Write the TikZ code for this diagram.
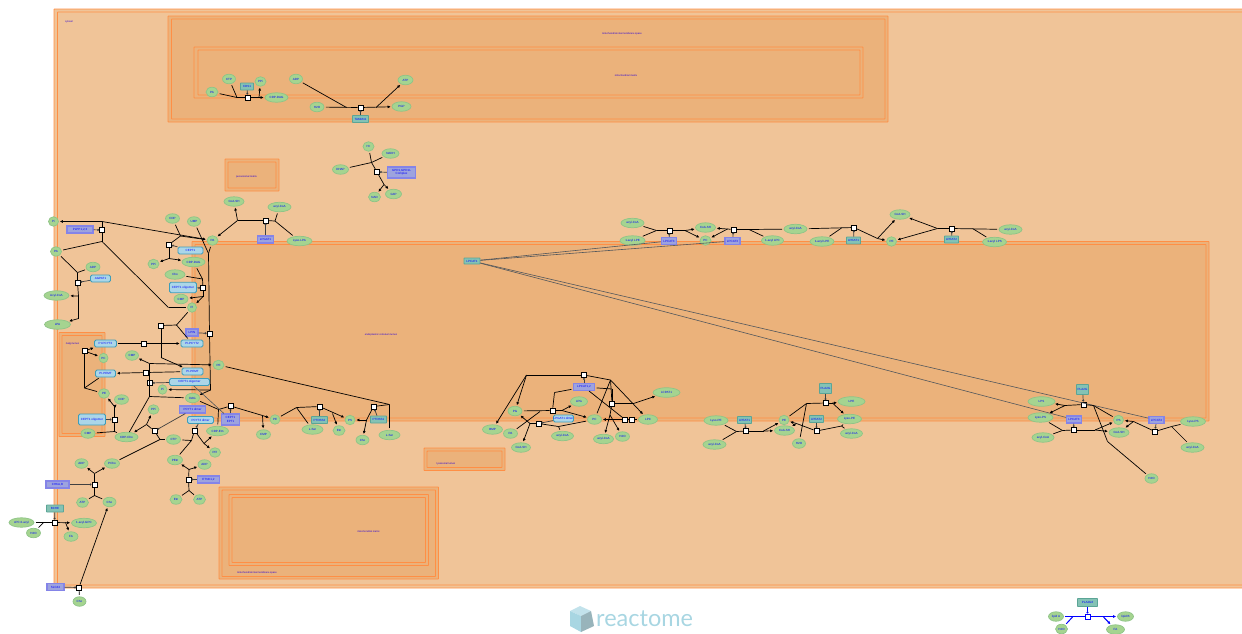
\documentclass[tikz,border=0pt]{standalone}
\usepackage{fontspec}
\setmainfont{Liberation Sans}
\newfontfamily\logofont{Lato}
\usetikzlibrary{shapes, arrows.meta, positioning, calc}

\definecolor{cytfill}{HTML}{F0C498}
\definecolor{orgfill}{HTML}{EBB27B}
\definecolor{orgline}{HTML}{FF8F45}
\definecolor{chemfill}{HTML}{A5D490}
\definecolor{chemline}{HTML}{8FC488}
\definecolor{protfill}{HTML}{ABD6E8}
\definecolor{protline}{HTML}{3E9DB9}
\definecolor{enzfill}{HTML}{84C2B4}
\definecolor{enzline}{HTML}{5BA596}
\definecolor{setfill}{HTML}{9DA3DE}
\definecolor{setline}{HTML}{8484E8}
\definecolor{linkgray}{HTML}{52575C}
\definecolor{logoblue}{HTML}{A8D6E2}

\tikzset{
	every node/.style={inner sep=0pt,text=blue,align=center,font=\fontsize{3}{3.4}\selectfont},
	chem/.style={ellipse,draw=chemline,fill=chemfill,line width=.7pt,minimum width=#1,minimum height=9.5pt},
	prot/.style={rectangle,rounded corners=1.5pt,draw=protline,fill=protfill,line width=.8pt,minimum width=#1,minimum height=7pt},
	enz/.style={rectangle,rounded corners=.5pt,draw=enzline,fill=enzfill,line width=.8pt,minimum width=#1,minimum height=7pt},
	setbox/.style={rectangle,draw=setline,fill=setfill,line width=1.1pt,minimum width=#1,minimum height=7pt},
	rxn/.style={rectangle,draw=black,fill=white,line width=.9pt,minimum size=5pt},
	lab/.style={font=\fontsize{2.5}{3}\selectfont,text=blue!85!red},
	comp/.style={draw=orgline,fill=#1,line width=.9pt,rounded corners=.6pt},
	inp/.style={draw=black,line width=.7pt,shorten <=1.5pt},
	rel/.style={draw=black,line width=.7pt},
	prod/.style={draw=black,line width=.7pt,-{Latex[length=3pt,width=3pt]},shorten >=1pt},
	cat/.style={draw=black!75,line width=.7pt,-{Circle[open,length=2pt,width=2pt,fill=white]}},
	grayln/.style={draw=linkgray,line width=.6pt}
}

\begin{document}
\begin{tikzpicture}[x=1pt,y=-1pt]
	\useasboundingbox (0,0) rectangle (1242,633);

	% compartments
	\draw[comp=cytfill] (54,9) rectangle (1250,588);
	\draw[comp=cytfill] (57.5,12) rectangle (1250,585);
	\draw[comp=orgfill] (168,16) rectangle (888,122);
	\draw[comp=orgfill] (171.5,19) rectangle (885,119);
	\draw[comp=orgfill] (194,47) rectangle (863,98);
	\draw[comp=orgfill] (198,50) rectangle (860,95);
	\draw[comp=orgfill] (225,159) rectangle (279,191);
	\draw[comp=orgfill] (228,162) rectangle (276,188);
	\draw[comp=orgfill] (192,241.5) rectangle (1209,421);
	\draw[comp=orgfill] (195,244.5) rectangle (1206,418);
	\draw[comp=orgfill] (59,332.5) rectangle (105,436.5);
	\draw[comp=orgfill] (62,335.5) rectangle (102,433.5);
	\draw[comp=orgfill] (424,448) rectangle (505,470.5);
	\draw[comp=orgfill] (427,451) rectangle (502,467.5);
	\draw[comp=orgfill] (219,487) rectangle (438.5,579);
	\draw[comp=orgfill] (222,490) rectangle (435.5,576.5);
	\draw[comp=orgfill] (229,494.5) rectangle (428.5,565.5);
	\draw[comp=orgfill] (232,497.5) rectangle (425.5,562.5);

	\node[lab] (cytlab) at (69,22) {cytosol};
	\node[lab] (imslab) at (622,33.5) {mitochondrial intermembrane space};
	\node[lab] (matlab) at (626,76) {mitochondrial matrix};
	\node[lab] (perlab) at (246.5,176.5) {peroxisomal matrix};
	\node[lab] (erlab) at (381,335) {endoplasmic reticulum lumen};
	\node[lab] (gollab) at (72.5,343.5) {Golgi lumen};
	\node[lab] (lyslab) at (446,464) {lysosomal lumen};
	\node[lab] (ims2lab) at (257,572.5) {mitochondrial intermembrane space};
	\node[lab] (mat2lab) at (368.5,531.5) {mitochondrial matrix};

	% nodes
	\node[chem=12] (pa1) at (212,92) {PA};
	\node[chem=13] (ctp1) at (229,79) {CTP};
	\node[enz=13] (cds) at (247,86.5) {CDS1};
	\node[chem=11] (ppi1) at (260.5,81.5) {PPi};
	\node[chem=23] (cdpdag1) at (276.5,97.5) {CDP-DAG};
	\node[rxn] (r1) at (247.5,97.5) {};
	\node[chem=13] (adp1) at (296,79) {ADP};
	\node[chem=14] (pi1) at (317,107) {H2O};
	\node[rxn] (r2) at (360.5,107.5) {};
	\node[enz=16] (atp5) at (360.5,119) {TAMM41};
	\node[chem=15] (atp1) at (405.5,80) {ATP};
	\node[chem=19] (hh1) at (401.5,106.5) {PGP};

	\node[chem=11] (hh2) at (368.5,146.5) {H+};
	\node[chem=17] (nadh) at (390.5,153.5) {NADH};
	\node[chem=16] (dhap) at (340.5,169.5) {DHAP};
	\node[rxn] (r3) at (377,172) {};
	\node[setbox=28,minimum height=11pt] (gpd) at (401.5,172.5) {GPD1,GPD1L\\Complex};
	\node[chem=12] (nad) at (374.5,197) {NAD};
	\node[chem=16] (g3p) at (393.5,194) {G3P};

	\node[chem=10] (pe1) at (53.5,221.5) {Pi};
	\node[setbox=26] (lpin1) at (80,229.5) {PLPP1,2,3};
	\node[rxn] (r4) at (102,230) {};
	\node[chem=11] (pa2) at (56,251.5) {PA};
	\node[chem=14] (adp2) at (93,267) {ADP};
	\node[prot=20] (agk) at (100.5,278.5) {AGPAT1};
	\node[rxn] (r5) at (77.5,282.5) {};
	\node[chem=25] (lpa1) at (56.5,295.5) {Acyl-CoA};
	\node[chem=26] (lpa2) at (57.5,324.5) {LPA};

	\node[chem=14] (cdp1) at (172.5,218.5) {CDP};
	\node[chem=13] (ump1) at (194,221.5) {UMP};
	\node[chem=11] (pa3) at (212.5,240.5) {PA};
	\node[rxn] (r6) at (169,244.5) {};
	\node[prot=25] (cept1) at (190.5,250.5) {CEPT1};
	\node[chem=11] (pi2) at (153.5,264) {PPi};
	\node[chem=23] (cdpdag2) at (193.5,262) {CDP-DAG};
	\node[chem=20] (cho1) at (175,274.5) {Cho};
	\node[prot=27,minimum height=10.5pt] (pcyt) at (183,287.5) {CEPT1 oligomer};
	\node[rxn] (r7) at (203,288) {};
	\node[chem=14] (cmp1) at (181,299) {CMP};
	\node[chem=9] (pi3) at (192,307.5) {Pi};
	\node[setbox=12] (lpin2) at (192,332.5) {LPIN};
	\node[rxn] (r8) at (209.5,333.5) {};
	\node[rxn] (r9) at (161,325.5) {};

	\node[prot=22] (pcho1) at (105.5,343.5) {PI-PCYT2};
	\node[rxn] (r10) at (143.5,343.5) {};
	\node[prot=22] (pcho2) at (192,343.5) {PI-PCYT2};
	\node[rxn] (r11) at (84.5,351) {};
	\node[chem=9] (pc1) at (103.5,358) {PC};
	\node[chem=13] (cmp2) at (132,355.5) {CMP};
	\node[chem=11] (pe2) at (218.5,365) {PE};
	\node[prot=20] (pemt1) at (105.5,373.5) {PI-PEMT};
	\node[rxn] (r12) at (145.5,372.5) {};
	\node[prot=21] (pemt2) at (192.5,371.5) {PI-PEMT};
	\node[rxn] (r13) at (150,383) {};
	\node[prot=40] (cept2) at (189.5,382) {CEPT1 oligomer};
	\node[chem=9] (pi4) at (162.5,389.5) {Pi};
	\node[chem=11] (pe3) at (104,393.5) {PE};
	\node[chem=14] (dag1) at (192.5,398) {DAG};
	\node[chem=14] (cdp2) at (121.5,399.5) {CDP};

	\node[rxn] (r14) at (114.5,419.5) {};
	\node[prot=27,minimum height=11pt] (pcyt2) at (92,419.5) {CEPT1 oligomer};
	\node[chem=14] (cmp3) at (88,433.5) {CMP};
	\node[chem=23] (cdpcho) at (126.5,437) {CDP-Cho};
	\node[rxn] (r15) at (154.5,431) {};
	\node[chem=11] (ppi2) at (153.5,409.5) {PPi};
	\node[setbox=26] (pcyt1) at (192.5,409.5) {PCYT1 dimer};
	\node[chem=14] (ctp2) at (173.5,439.5) {CTP};
	\node[chem=15] (pcho3) at (112,463.5) {PCho};

	\node[rxn] (r16) at (194.5,430.5) {};
	\node[prot=26] (prot3) at (200.5,420) {PCYT2 dimer};
	\node[chem=22] (cdpetn) at (217.5,431) {CDP-Etn};
	\node[chem=11] (ppi3) at (215,452.5) {PPi};
	\node[chem=15] (petn1) at (175,460) {PEtn};
	\node[rxn] (r17) at (188.5,479.5) {};
	\node[setbox=22] (etnk1) at (208.5,479.5) {ETNK1,2};
	\node[chem=13] (adp3) at (204.5,464.5) {ADP};
	\node[chem=12] (etn1) at (176,499.5) {Etn};
	\node[chem=12] (atp2) at (199.5,499.5) {ATP};

	\node[rxn] (r18) at (94.5,484.5) {};
	\node[setbox=23] (chk) at (57.5,484.5) {CHKA,B};
	\node[chem=13] (adp4) at (81.5,463.5) {ADP};
	\node[chem=12] (atp3) at (82.5,502.5) {ATP};
	\node[chem=13] (cho2) at (109.5,502) {Cho};
	\node[rxn] (r19) at (54.5,522.5) {};
	\node[enz=17] (pla) at (55,508.5) {BCHE};
	\node[chem=25] (lpc1) at (21.5,522.5) {sPC:2-acyl};
	\node[chem=14] (h2o1) at (33.5,533) {H2O};
	\node[chem=25] (lpc2) at (84,523) {1-acyl-GPC};
	\node[chem=14] (fa1) at (71,536.5) {FA};
	\node[rxn] (r20) at (79,587.5) {};
	\node[setbox=17] (slc) at (55.5,587) {SLC44};
	\node[chem=13] (cho3) at (79.5,601.5) {Cho};

	\node[rxn] (r21) at (265.5,220.5) {};
	\node[setbox=16] (lpin3) at (265.5,239.5) {LPGAT1};
	\node[chem=20] (coa1) at (234,201.5) {CoA-SH};
	\node[chem=23] (acyl1) at (279.5,207) {acyl-CoA};
	\node[chem=25] (lyso1) at (299.5,241) {Lyso-LPA};

	\node[rxn] (r22) at (230.5,406) {};
	\node[setbox=18,minimum height=11pt] (cept3) at (230.5,419.5) {CEPT1\\EPT1};
	\node[chem=14] (cmp4) at (263.5,434.5) {CMP};
	\node[chem=10] (pe4) at (275,419.5) {PE};
	\node[rxn] (r23) at (319.5,406.5) {};
	\node[enz=16] (pisd) at (319.5,420) {PTDSS2};
	\node[chem=21] (lser1) at (312.5,429.5) {L-Ser};
	\node[chem=12] (etn2) at (339,430.5) {Etn};
	\node[chem=10] (ps1) at (350,420) {PS};
	\node[rxn] (r24) at (373.5,406.5) {};
	\node[enz=16] (ptds1) at (378.5,419.5) {PTDSS1};
	\node[chem=13] (cho4) at (362.5,440) {Cho};
	\node[chem=21] (lser2) at (389.5,435) {L-Ser};

	\node[enz=16,minimum height=6pt] (lpcat1) at (472,261) {LPCAT1};

	\node[chem=23] (acyl2) at (632.5,223) {acyl-CoA};
	\node[chem=25] (lyso2) at (632.5,240.5) {1-acyl LPE};
	\node[rxn] (r25) at (669.5,230.5) {};
	\node[setbox=15] (lpc3) at (669,241) {LPCAT3};
	\node[chem=20] (coa2) at (705.5,227.5) {CoA-SH};
	\node[chem=11] (pa4) at (705.5,240.5) {PC};
	\node[rxn] (r26) at (733.5,229.5) {};
	\node[setbox=15] (lpc4) at (732.5,241) {LPCAT3};
	\node[chem=22] (lyso3) at (772.5,240.5) {1-acyl LPC};
	\node[chem=23] (acyl3) at (795.5,229) {acyl-CoA};
	\node[chem=24] (lyso4) at (822,241.5) {1-acyl LPE};
	\node[rxn] (r27) at (854,227.5) {};
	\node[enz=14] (lpe1) at (853.5,240.5) {LPEAT1};
	\node[chem=10] (pe5) at (891.5,241.5) {PE};
	\node[chem=20] (coa3) at (900,214.5) {CoA-SH};
	\node[rxn] (r28) at (952,228.5) {};
	\node[enz=14] (lpe2) at (951.5,239.5) {LPEAT2};
	\node[chem=24] (lyso5) at (994.5,242) {1-acyl LPS};
	\node[chem=23] (acyl4) at (1010.5,229.5) {acyl-CoA};

	% lower ER group
	\node[rxn] (r29) at (584,375) {};
	\node[setbox=21] (mboat1) at (584,387) {LPCAT1,2};
	\node[chem=27] (lpch) at (666.5,392.5) {LCPAT1};
	\node[chem=20] (bmp) at (492.5,429.5) {BMP};
	\node[chem=14] (pgn) at (515,411) {PG};
	\node[chem=17] (lpg1) at (579,401.5) {LPG};
	\node[rxn] (r30) at (552.5,410.5) {};
	\node[prot=20] (prot5) at (563.5,418.5) {LPGAT1 dimer};
	\node[rxn] (r31) at (538.5,423.5) {};
	\node[chem=14] (ptd) at (510.5,433.5) {PA};
	\node[chem=22] (acyl5) at (562.5,436) {acyl-CoA};
	\node[chem=19] (coa4) at (521,447.5) {CoA-SH};
	\node[chem=14] (pc2) at (594.5,419.5) {PC};
	\node[rxn] (r32) at (612,403.5) {};
	\node[rxn] (r33) at (625,419.5) {};
	\node[rxn] (r34) at (631.5,419.5) {};
	\node[chem=19] (pcg) at (648,419.5) {LPC};
	\node[chem=20] (acyl6) at (603.5,439) {acyl-CoA};
	\node[chem=14] (h2o2) at (622.5,436.5) {H2O};

	\node[chem=24] (lyso6) at (716,420.5) {Lyso-PE};
	\node[chem=23] (acyl7) at (714.5,444.5) {acyl-CoA};
	\node[rxn] (r35) at (746,431) {};
	\node[enz=14] (enz6) at (744.5,420) {LPEAT1};
	\node[chem=10] (pe6) at (784,420) {PE};
	\node[chem=20] (coa5) at (784.5,430.5) {CoA-SH};
	\node[chem=13] (h2o3) at (799,443.5) {H2O};
	\node[enz=12,minimum height=10pt] (pla2) at (825.5,388.5) {PLA2G};
	\node[rxn] (r36) at (825.5,403) {};
	\node[chem=27] (lpe3) at (851.5,401.5) {LPE};
	\node[rxn] (r37) at (816.5,431) {};
	\node[enz=14] (enz7) at (816.5,419) {LPEAT2};
	\node[chem=24] (lyso7) at (849.5,419) {Lyso-PE};
	\node[chem=22] (acyl8) at (851.5,433.5) {acyl-CoA};

	\node[chem=27] (lps) at (1041.5,401.5) {LPS};
	\node[chem=25] (lyso8) at (1040.5,417.5) {Lyso-PS};
	\node[chem=22] (acyl9) at (1043,437.5) {acyl-CoA};
	\node[enz=12,minimum height=10pt] (pla3) at (1082.5,389.5) {PLA2G};
	\node[rxn] (r38) at (1083.5,404.5) {};
	\node[rxn] (r39) at (1073.5,430) {};
	\node[setbox=15] (lp5) at (1074,419.5) {LPCAT3};
	\node[chem=10] (ps2) at (1118.5,420) {PS};
	\node[chem=20] (coa6) at (1119,432.5) {CoA-SH};
	\node[rxn] (r40) at (1155,431.5) {};
	\node[setbox=15] (lp6) at (1156.5,420) {LPCAT4};
	\node[chem=25] (lyso9) at (1193,421.5) {Lyso-PS};
	\node[chem=23] (acyl10) at (1192.5,447.5) {acyl-CoA};
	\node[chem=13] (h2o4) at (1151.5,478.5) {H2O};

	% legend reaction
	\node[enz=20,minimum height=8pt] (leg) at (1087.5,602.5) {PLA2G6};
	\node[rxn,draw=blue] (r41) at (1087.5,616.5) {};
	\node[chem=15] (leg1) at (1056,616.5) {lipid A};
	\node[chem=12] (leg2) at (1061.5,629) {H2O};
	\node[chem=16] (leg3) at (1125.5,616.5) {lipid B};
	\node[chem=18] (leg4) at (1115.5,629.5) {FA};

	% junctions
	\coordinate (j1) at (237,97.5);
	\coordinate (j2) at (259,97.5);
	\coordinate (j3) at (346.5,107.5);
	\coordinate (j4) at (376,107.5);
	\coordinate (j5) at (371.5,162.5);
	\coordinate (j6) at (384,184.5);
	\coordinate (j7) at (102,221.5);
	\coordinate (j8) at (102,241.5);
	\coordinate (j9) at (168.5,307.5);
	\coordinate (j10) at (77.5,272.5);
	\coordinate (j11) at (78.5,296);
	\coordinate (j12) at (78.5,318.5);
	\coordinate (j13) at (180.5,236);
	\coordinate (j14) at (169,258.5);
	\coordinate (j15) at (208.5,253.5);
	\coordinate (j16) at (210.5,390);
	\coordinate (j17) at (176.5,325);
	\coordinate (j18) at (161,357.5);
	\coordinate (j19) at (149.5,363.5);
	\coordinate (j20) at (149.5,396.5);
	\coordinate (j21) at (84.5,388);
	\coordinate (j22) at (114.5,406.5);
	\coordinate (j23) at (114.5,431.5);
	\coordinate (j24) at (160,439.5);
	\coordinate (j25) at (146.5,424.5);
	\coordinate (j26) at (191.5,440.5);
	\coordinate (j27) at (204,443.5);
	\coordinate (j28) at (189,469.5);
	\coordinate (j29) at (189,490.5);
	\coordinate (j30) at (94.5,473.5);
	\coordinate (j31) at (94.5,495.5);
	\coordinate (j32) at (43.5,522.5);
	\coordinate (j33) at (65.5,522.5);
	\coordinate (j34) at (237.5,220.5);
	\coordinate (j35) at (275,221);
	\coordinate (j36) at (218.5,409.5);
	\coordinate (j37) at (262.5,415.5);
	\coordinate (j38) at (296.5,407.5);
	\coordinate (j39) at (332.5,413.5);
	\coordinate (j40) at (389.5,404.5);
	\coordinate (j41) at (366.5,420);
	\coordinate (j42) at (656.5,230.5);
	\coordinate (j43) at (685,230.5);
	\coordinate (j44) at (727.5,229);
	\coordinate (j45) at (749,229.5);
	\coordinate (j46) at (841.5,228);
	\coordinate (j47) at (877.5,238.5);
	\coordinate (j48) at (937.5,228.5);
	\coordinate (j49) at (972.5,228.5);
	\coordinate (j50) at (526.5,375);
	\coordinate (j51) at (610.5,380);
	\coordinate (j52) at (612,389);
	\coordinate (j53) at (610,415);
	\coordinate (j54) at (633.5,403.5);
	\coordinate (j55) at (554.5,392.5);
	\coordinate (j56) at (562,410.5);
	\coordinate (j57) at (530,423.5);
	\coordinate (j58) at (540,411.5);
	\coordinate (j59) at (558.5,426.5);
	\coordinate (j60) at (736.5,431.5);
	\coordinate (j61) at (763.5,431);
	\coordinate (j62) at (806.5,403.5);
	\coordinate (j63) at (832.5,403);
	\coordinate (j64) at (796.5,423.5);
	\coordinate (j65) at (841.5,426);
	\coordinate (j66) at (1065,405.5);
	\coordinate (j67) at (1093.5,405.5);
	\coordinate (j68) at (1107.5,441.5);
	\coordinate (j69) at (1062.5,430.5);
	\coordinate (j70) at (1095,430);
	\coordinate (j71) at (1133.5,421.5);
	\coordinate (j72) at (1171.5,426.5);
	\coordinate (j73) at (1072.5,617);
	\coordinate (j74) at (1103.5,617);
	\coordinate (j75) at (202.5,279);
	\coordinate (j76) at (203,296.5);

	% top reactions
	\draw[inp] (pa1) -- (j1);
	\draw[inp] (ctp1) -- (j1);
	\draw[rel] (j1) -- (r1);
	\draw[prod] (r1) -- (cdpdag1);
	\draw[prod] (j2) -- (ppi1);
	\draw[cat] (cds) -- (r1);
	\draw[inp] (adp1) -- (j3);
	\draw[inp] (pi1) -- (r2);
	\draw[prod] (r2) -- (hh1);
	\draw[prod] (j4) -- (atp1);
	\draw[cat] (atp5) -- (r2);
	\draw[inp] (hh2) -- (j5);
	\draw[inp] (nadh) -- (j5);
	\draw[inp] (dhap) -- (j5);
	\draw[rel] (j5) -- (r3);
	\draw[rel] (r3) -- (j6);
	\draw[prod] (j6) -- (nad);
	\draw[prod] (j6) -- (g3p);
	\draw[cat] (gpd) -- (r3);

	% left reactions
	\draw[prod] (j7) -- (pe1);
	\draw[prod] (j7) -- (pa3);
	\draw[rel] (j7) -- (r4);
	\draw[rel] (r4) -- (j8);
	\draw[cat] (lpin1) -- (r4);
	\draw[inp] (pa2) -- (j8);
	\draw[rel] (j8) -- (j9);
	\draw[inp] (pi3) -- (j9);
	\draw[inp] (pa2) -- (j10);
	\draw[inp] (adp2) -- (j10);
	\draw[rel] (j10) -- (r5);
	\draw[cat] (agk) -- (r5);
	\draw[rel] (r5) -- (j11);
	\draw[rel] (j11) -- (j12);
	\draw[prod] (j11) -- (lpa1);
	\draw[prod] (j12) -- (lpa2);

	\draw[inp] (cdp1) -- (j13);
	\draw[prod] (j13) -- (pa3);
	\draw[rel] (j13) -- (r6);
	\draw[cat] (cept1) -- (r6);
	\draw[rel] (r6) -- (j14);
	\draw[prod] (j14) -- (pi2);
	\draw[prod] (j14) -- (cdpdag2);
	\draw[inp] (ump1) -- (j15);
	\draw[inp] (pa3) -- (j15);
	\draw[rel] (j15) -- (r8);
	\draw[rel] (r8) -- (j16);
	\draw[prod] (j16) -- (dag1);
	\draw[prod] (j16) -- (pi4);
	\draw[cat] (lpin2) -- (r8);
	\draw[inp] (cdpdag2) -- (j75);
	\draw[inp] (cho1) -- (j75);
	\draw[rel] (j75) -- (r7);
	\draw[rel] (r7) -- (j76);
	\draw[prod] (j76) -- (cmp1);
	\draw[prod] (j76) -- (pi3);
	\draw[cat] (pcyt) -- (r7);

	\draw[inp] (pi3) -- (j17);
	\draw[inp] (pcho2) -- (j17);
	\draw[rel] (j17) -- (r9);
	\draw[rel] (r9) -- (j18);
	\draw[prod] (j18) -- (pemt2);
	\draw[inp] (pcho1) -- (r10);
	\draw[prod] (r10) -- (pcho2);
	\draw[prod] (r11) -- (pc1);
	\draw[prod] (r11) -- (pcho1);
	\draw[rel] (r11) -- (j21);
	\draw[inp] (pe3) -- (j21);
	\draw[inp] (pemt1) -- (j21);
	\draw[inp] (pemt2) -- (r12);
	\draw[prod] (r12) -- (pemt1);

	\draw[rel] (j19) -- (j20);
	\draw[prod] (j19) -- (pe2);
	\draw[prod] (j19) -- (cmp2);
	\draw[cat] (cept2) -- (r13);
	\draw[inp] (dag1) -- (j20);
	\draw[rel] (j20) -- (cdpcho);

	\draw[rel] (r14) -- (j22);
	\draw[prod] (j22) -- (pe3);
	\draw[prod] (j22) -- (cdp2);
	\draw[rel] (r14) -- (j23);
	\draw[inp] (cmp3) -- (j23);
	\draw[inp] (cdpcho) -- (j23);
	\draw[cat] (pcyt2) -- (r14);

	\draw[inp] (pcho3) -- (j24);
	\draw[inp] (ctp2) -- (j24);
	\draw[rel] (j24) -- (r15);
	\draw[rel] (r15) -- (j25);
	\draw[prod] (j25) -- (ppi2);
	\draw[prod] (j25) -- (cdpcho);
	\draw[cat] (pcyt1) -- (r15);

	\draw[inp] (ctp2) -- (j26);
	\draw[inp] (petn1) -- (j26);
	\draw[rel] (j26) -- (r16);
	\draw[cat] (prot3) -- (r16);
	\draw[rel] (r16) -- (j27);
	\draw[prod] (j27) -- (cdpetn);
	\draw[prod] (j27) -- (ppi3);

	\draw[rel] (r17) -- (j28);
	\draw[prod] (j28) -- (petn1);
	\draw[prod] (j28) -- (adp3);
	\draw[rel] (r17) -- (j29);
	\draw[inp] (etn1) -- (j29);
	\draw[inp] (atp2) -- (j29);
	\draw[cat] (etnk1) -- (r17);

	\draw[rel] (r18) -- (j30);
	\draw[prod] (j30) -- (adp4);
	\draw[prod] (j30) -- (pcho3);
	\draw[rel] (r18) -- (j31);
	\draw[inp] (atp3) -- (j31);
	\draw[inp] (cho2) -- (j31);
	\draw[cat] (chk) -- (r18);

	\draw[inp] (lpc1) -- (r19);
	\draw[inp] (h2o1) -- (j32);
	\draw[prod] (r19) -- (lpc2);
	\draw[prod] (j33) -- (fa1);
	\draw[cat] (pla) -- (r19);
	\draw[inp] (cho3) -- (r20);
	\draw[prod] (r20) -- (cho2);
	\draw[cat] (slc) -- (r20);

	\draw[rel] (j34) -- (r21);
	\draw[rel] (r21) -- (j35);
	\draw[prod] (j34) -- (coa1);
	\draw[prod] (j34) -- (pa3);
	\draw[inp] (acyl1) -- (j35);
	\draw[inp] (lyso1) -- (j35);
	\draw[cat] (lpin3) -- (r21);

	\draw[inp] (dag1) -- (j36);
	\draw[rel] (j36) -- (r22);
	\draw[inp] (cdpetn) -- (j36);
	\draw[rel] (r22) -- (j37);
	\draw[prod] (j37) -- (cmp4);
	\draw[prod] (j37) -- (pe4);
	\draw[cat] (cept3) -- (r22);
	\draw[grayln] (cept2) -- (cept3);

	\draw[inp] (pe4) -- (j38);
	\draw[inp] (lser1) -- (j38);
	\draw[rel] (j38) -- (r23);
	\draw[prod] (r23) -- (ps1);
	\draw[prod] (j39) -- (etn2);
	\draw[cat] (pisd) -- (r23);
	\draw[inp] (pe2) -- (j40);
	\draw[inp] (lser2) -- (j40);
	\draw[rel] (j40) -- (r24);
	\draw[rel] (r24) -- (j41);
	\draw[prod] (j41) -- (ps1);
	\draw[prod] (j41) -- (cho4);
	\draw[cat] (ptds1) -- (r24);

	% long links from LPCAT1
	\draw[grayln] (lpcat1) -- (lpc3);
	\draw[grayln] (lpcat1) -- (lpc4);
	\draw[grayln] (lpcat1) -- (lp5);
	\draw[grayln] (lpcat1) -- (lp6);

	% upper ER edge
	\draw[inp] (acyl2) -- (j42);
	\draw[inp] (lyso2) -- (j42);
	\draw[rel] (j42) -- (r25);
	\draw[rel] (r25) -- (j43);
	\draw[prod] (j43) -- (coa2);
	\draw[prod] (j43) -- (pa4);
	\draw[cat] (lpc3) -- (r25);
	\draw[rel] (j44) -- (r26);
	\draw[prod] (j44) -- (coa2);
	\draw[prod] (j44) -- (pa4);
	\draw[rel] (r26) -- (j45);
	\draw[inp] (acyl3) -- (j45);
	\draw[inp] (lyso3) -- (j45);
	\draw[cat] (lpc4) -- (r26);
	\draw[inp] (acyl3) -- (r27);
	\draw[inp] (lyso4) -- (j46);
	\draw[rel] (r27) -- (j47);
	\draw[prod] (j47) -- (pe5);
	\draw[prod] (j47) -- (coa3);
	\draw[cat] (lpe1) -- (r27);
	\draw[rel] (j48) -- (r28);
	\draw[prod] (j48) -- (coa3);
	\draw[prod] (j48) -- (pe5);
	\draw[inp] (acyl4) -- (r28);
	\draw[inp] (lyso5) -- (j49);
	\draw[cat] (lpe2) -- (r28);

	% lower ER edge
	\draw[rel] (j50) -- (r29);
	\draw[prod] (j50) -- (bmp);
	\draw[prod] (j50) -- (pgn);
	\draw[rel] (r29) -- (j51);
	\draw[inp] (pc2) -- (j51);
	\draw[prod] (j51) -- (pcg);
	\draw[cat] (mboat1) -- (r29);
	\draw[inp] (mboat1) -- (j52);
	\draw[rel] (j51) -- (r32);
	\draw[rel] (j52) -- (r32);
	\draw[rel] (r32) -- (j54);
	\draw[prod] (j54) -- (lpch);
	\draw[rel] (r32) -- (j53);
	\draw[prod] (j53) -- (acyl6);
	\draw[prod] (j53) -- (h2o2);
	\draw[inp] (pcg) -- (r34);
	\draw[rel] (r34) -- (r33);
	\draw[prod] (r33) -- (pc2);
	\draw[rel] (mboat1) -- (r33);
	\draw[inp] (pgn) -- (r30);
	\draw[inp] (mboat1) -- (j55);
	\draw[rel] (j55) -- (r30);
	\draw[rel] (r30) -- (j56);
	\draw[prod] (j56) -- (lpg1);
	\draw[prod] (j56) -- (pc2);
	\draw[cat] (prot5) -- (r31);
	\draw[rel] (r31) -- (j57);
	\draw[prod] (j57) -- (pgn);
	\draw[prod] (j57) -- (coa4);
	\draw[inp] (ptd) -- (j58);
	\draw[rel] (r31) -- (j59);
	\draw[inp] (acyl5) -- (j59);
	\draw[inp] (pc2) -- (j59);

	\draw[inp] (lyso6) -- (j60);
	\draw[inp] (acyl7) -- (j60);
	\draw[rel] (j60) -- (r35);
	\draw[rel] (r35) -- (j61);
	\draw[prod] (j61) -- (coa5);
	\draw[prod] (j61) -- (pe6);
	\draw[cat] (enz6) -- (r35);
	\draw[rel] (j62) -- (r36);
	\draw[inp] (pe6) -- (j62);
	\draw[inp] (h2o3) -- (j62);
	\draw[rel] (r36) -- (j63);
	\draw[prod] (j63) -- (lpe3);
	\draw[prod] (j63) -- (lyso7);
	\draw[cat] (pla2) -- (r36);
	\draw[rel] (r37) -- (j64);
	\draw[prod] (j64) -- (pe6);
	\draw[prod] (j64) -- (coa5);
	\draw[rel] (r37) -- (j65);
	\draw[inp] (lyso7) -- (j65);
	\draw[inp] (acyl8) -- (j65);
	\draw[cat] (enz7) -- (r37);

	\draw[rel] (r38) -- (j66);
	\draw[prod] (j66) -- (lps);
	\draw[prod] (j66) -- (lyso8);
	\draw[rel] (r38) -- (j67);
	\draw[inp] (ps2) -- (j67);
	\draw[rel] (j67) -- (j68);
	\draw[inp] (h2o4) -- (j68);
	\draw[cat] (pla3) -- (r38);
	\draw[inp] (lyso8) -- (j69);
	\draw[inp] (acyl9) -- (j69);
	\draw[rel] (j69) -- (r39);
	\draw[rel] (r39) -- (j70);
	\draw[prod] (j70) -- (coa6);
	\draw[prod] (j70) -- (ps2);
	\draw[cat] (lp5) -- (r39);
	\draw[rel] (r40) -- (j71);
	\draw[prod] (j71) -- (ps2);
	\draw[prod] (j71) -- (coa6);
	\draw[rel] (r40) -- (j72);
	\draw[inp] (lyso9) -- (j72);
	\draw[inp] (acyl10) -- (j72);
	\draw[cat] (lp6) -- (r40);

	% legend reaction in blue
	\draw[inp,draw=blue,line width=1pt] (leg1) -- (r41);
	\draw[prod,draw=blue,fill=blue,line width=1pt] (r41) -- (leg3);
	\draw[inp,draw=blue,line width=1pt] (leg2) -- (j73);
	\draw[prod,draw=blue,fill=blue,line width=1pt] (j74) -- (leg4);
	\draw[cat,draw=blue] (leg) -- (r41);

	% logo
	\fill[logoblue!70] (570,611) -- (580,606) -- (591,611) -- (581,616) -- cycle;
	\fill[logoblue] (570,611) -- (581,616) -- (581,632) -- (570,626) -- cycle;
	\fill[logoblue!60!gray] (581,616) -- (591,611) -- (594,626) -- (581,632) -- cycle;
	\node[text=logoblue,font=\logofont\fontsize{23.5}{25}\selectfont,anchor=west] (logo) at (596,619) {reactome};
\end{tikzpicture}
\end{document}
